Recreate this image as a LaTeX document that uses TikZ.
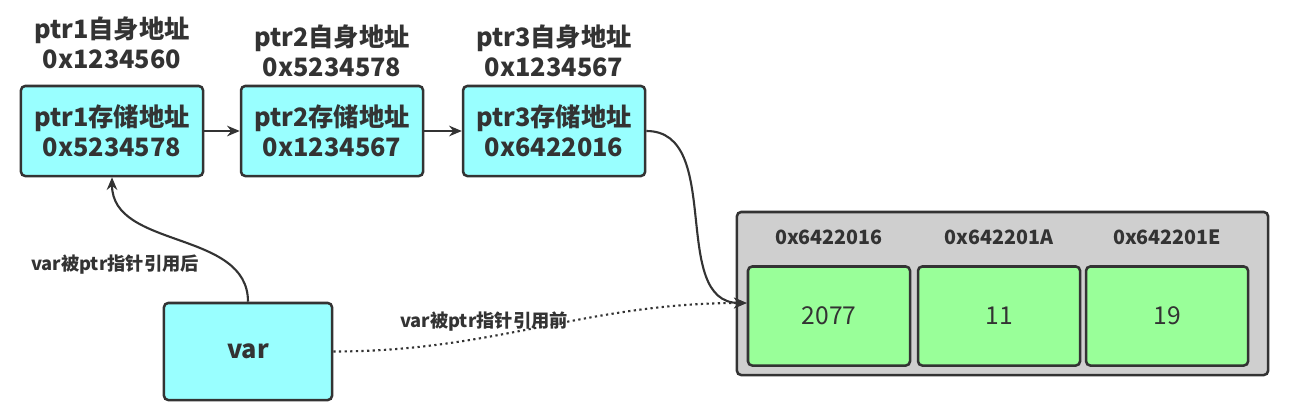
\documentclass[tikz,border=0pt]{standalone}
\usepackage{fontspec}
\setmainfont{Noto Sans CJK SC}
\usetikzlibrary{shapes.geometric, arrows.meta, positioning}
\definecolor{linecol}{HTML}{333333}
\definecolor{ptrfill}{HTML}{99FFFF}
\definecolor{cellfill}{HTML}{99FF99}
\definecolor{memfill}{HTML}{CFCFCF}
\tikzstyle{ptrbox} = [rectangle, rounded corners=3pt, minimum width=4.55cm, minimum height=2.25cm, align=center, draw=linecol, line width=1.8pt, fill=ptrfill, text=linecol, font=\bfseries\fontsize{18}{21.3}\selectfont]
\tikzstyle{varbox} = [ptrbox, minimum width=4.2cm, minimum height=2.425cm]
\tikzstyle{addr} = [align=center, text=linecol, font=\bfseries\fontsize{18}{21.3}\selectfont]
\tikzstyle{membox} = [rectangle, rounded corners=3pt, minimum width=13.275cm, minimum height=4.075cm, draw=linecol, line width=1.8pt, fill=memfill]
\tikzstyle{cellbox} = [rectangle, rounded corners=3pt, minimum width=4.05cm, minimum height=2.475cm, draw=linecol, line width=1.8pt, fill=cellfill, text=linecol, font=\fontsize{17.5}{20}\selectfont]
\tikzstyle{cellhead} = [text=linecol, font=\bfseries\fontsize{14}{16}\selectfont]
\tikzstyle{edgelabel} = [text=linecol, font=\bfseries\fontsize{13}{15}\selectfont]
\tikzstyle{arrow} = [line width=1.5pt, draw=linecol, -{Stealth[length=9pt, width=7.5pt]}]
\tikzstyle{dotarrow} = [arrow, dash pattern=on 1.6pt off 2.4pt]

\begin{document}
\begin{tikzpicture}[x=0.025cm, y=-0.025cm]

\useasboundingbox (0,0) rectangle (1290,416);

%% NODES

\node (ptr1) [ptrbox] at (112,131) {ptr1存储地址\\0x5234578};
\node (ptr2) [ptrbox, right of=ptr1, node distance=5.5cm] {ptr2存储地址\\0x1234567};
\node (ptr3) [ptrbox, right of=ptr2, node distance=5.55cm] {ptr3存储地址\\0x6422016};
\node (ptr1_addr) [addr, above of=ptr1, node distance=2.2cm] {ptr1自身地址\\0x1234560};
\node (ptr2_addr) [addr, above of=ptr2, node distance=2cm] {ptr2自身地址\\0x5234578};
\node (ptr3_addr) [addr, above of=ptr3, node distance=2cm] {ptr3自身地址\\0x1234567};

\node (var) [varbox] at (248,351.5) {var};

\node (mem) [membox] at (1002.5,293.5) {};
\node (cell1) [cellbox] at (829,316) {2077};
\node (cell2) [cellbox, right of=cell1, node distance=4.25cm] {11};
\node (cell3) [cellbox, right of=cell2, node distance=4.2cm] {19};
\node (head1) [cellhead, above of=cell1, node distance=1.975cm] {0x6422016};
\node (head2) [cellhead, above of=cell2, node distance=1.975cm] {0x642201A};
\node (head3) [cellhead, above of=cell3, node distance=1.975cm] {0x642201E};
\coordinate (cell1_in) at ([yshift=0.325cm]cell1.west);

\node (after_label) [edgelabel] at (115,265) {var被ptr指针引用后};
\node (before_label) [edgelabel] at (484,322) {var被ptr指针引用前};

%% ARROWS

\draw [arrow] (ptr1) -- (ptr2);
\draw [arrow] (ptr2) -- (ptr3);
\draw [arrow] (ptr3.east) to[out=0, in=180] (cell1_in);
\draw [arrow] (var.north) to[out=90, in=-90] (ptr1.south);
\draw [dotarrow] (var.east) to[out=0, in=180] (cell1_in);

\end{tikzpicture}
\end{document}
